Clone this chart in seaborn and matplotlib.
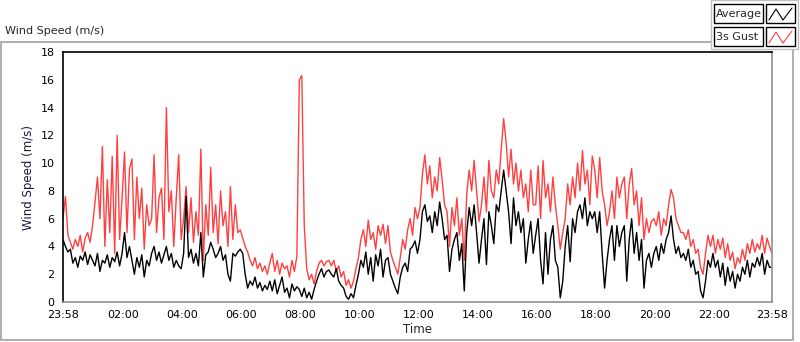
import numpy as np
import pandas as pd
import matplotlib
matplotlib.use("Agg")
import matplotlib.pyplot as plt
from matplotlib.patches import Rectangle
from matplotlib.lines import Line2D
import seaborn as sns

# readings every 5 minutes from 23:58 to 23:58 next day (one row of 12 per hour)
gust = [
    6.0, 7.6, 4.8, 4.3, 3.8, 4.5, 4.0, 4.8, 3.6, 4.6, 5.0, 4.3,
    5.5, 7.2, 9.0, 6.0, 11.2, 4.0, 8.8, 5.0, 10.5, 3.5, 12.0, 4.5,
    7.5, 10.8, 5.0, 9.6, 10.3, 4.5, 9.0, 6.0, 8.2, 3.8, 7.0, 5.5,
    6.0, 10.6, 5.0, 7.5, 8.2, 4.5, 14.0, 6.5, 8.0, 4.0, 7.5, 10.6,
    4.5, 6.0, 8.3, 5.0, 7.5, 4.3, 6.5, 4.8, 11.0, 3.0, 7.0, 4.8,
    9.7, 5.0, 7.0, 4.2, 8.0, 5.5, 6.5, 4.0, 8.3, 4.5, 7.0, 5.0,
    5.2, 4.6, 4.0, 3.6, 3.0, 2.6, 3.2, 2.4, 2.8, 2.2, 2.6, 2.0,
    2.8, 3.5, 2.2, 3.0, 2.0, 2.8, 2.4, 2.6, 1.8, 3.0, 2.2, 3.3,
    16.0, 16.3, 5.5, 2.4, 1.6, 2.0, 1.3, 2.2, 2.8, 3.0, 2.6, 2.9,
    3.0, 2.6, 3.0, 2.2, 2.6, 1.8, 2.2, 1.2, 1.6, 1.0, 1.5, 2.4,
    3.2, 4.5, 5.2, 4.0, 5.9, 4.5, 5.0, 3.8, 5.5, 4.8, 5.6, 4.2,
    5.5, 3.6, 3.0, 2.5, 2.0, 3.2, 4.5, 3.8, 5.2, 6.0, 4.8, 6.8,
    6.0, 6.8, 9.2, 10.6, 8.5, 9.8, 7.5, 9.0, 8.0, 10.4, 8.8, 7.0,
    6.5, 4.0, 6.8, 5.5, 7.5, 4.8, 6.0, 3.0, 7.8, 9.5, 8.0, 10.2,
    8.0, 5.8, 7.0, 9.0, 6.5, 10.2, 8.0, 7.5, 9.5, 8.5, 11.0, 13.2,
    11.5, 9.0, 11.0, 8.5, 10.0, 8.0, 9.5, 7.5, 8.5, 6.5, 9.5, 7.0,
    7.0, 9.8, 6.0, 10.2, 7.5, 8.5, 6.5, 9.0, 7.0, 5.5, 3.8, 5.0,
    6.0, 8.5, 7.0, 9.0, 7.5, 10.0, 8.0, 10.9, 8.5, 9.5, 7.0, 10.5,
    9.5, 7.5, 10.4, 8.0, 7.0, 5.5, 6.5, 8.0, 6.0, 9.0, 7.5, 8.5,
    9.0, 6.0, 8.5, 9.6, 7.0, 8.0, 5.5, 7.5, 4.5, 6.0, 5.0, 5.8,
    6.0, 5.5, 6.5, 4.8, 6.0, 5.5, 7.0, 8.1, 7.5, 6.0, 5.5, 5.0,
    5.0, 4.5, 5.2, 4.0, 4.5, 3.5, 3.8, 2.5, 2.0, 3.5, 4.8, 4.0,
    4.8, 3.5, 4.5, 3.8, 4.6, 3.2, 4.2, 3.0, 3.6, 2.4, 3.2, 2.8,
    3.8, 3.0, 4.2, 3.5, 4.5, 3.6, 4.2, 3.8, 4.8, 3.5, 4.6, 4.0,
    3.5,
]
average = [
    4.5, 4.0, 3.6, 3.8, 2.8, 3.2, 2.5, 3.3, 3.0, 3.6, 2.7, 3.4,
    3.0, 2.6, 3.5, 2.2, 3.0, 2.8, 3.4, 2.5, 3.2, 2.9, 3.6, 2.6,
    3.5, 5.0, 3.2, 4.0, 3.0, 2.0, 3.2, 2.5, 3.4, 1.8, 3.0, 2.6,
    3.5, 4.0, 3.0, 3.6, 2.8, 3.4, 4.0, 3.0, 3.5, 2.5, 3.0, 2.6,
    2.4, 3.5, 7.6, 3.2, 3.8, 2.8, 3.5, 2.6, 5.0, 1.8, 3.4, 3.6,
    4.3, 3.8, 3.2, 3.5, 4.0, 3.0, 3.4, 2.0, 1.5, 3.5, 3.3, 3.6,
    3.8, 3.5, 2.0, 1.0, 1.5, 1.2, 1.8, 1.0, 1.4, 0.8, 1.2, 0.9,
    1.5, 0.8, 1.6, 0.6, 1.2, 1.8, 0.7, 1.0, 0.3, 1.3, 0.8, 1.1,
    0.9, 0.4, 1.0, 0.3, 0.7, 0.2, 0.9, 1.5, 2.0, 2.4, 1.8, 2.2,
    2.3, 2.0, 1.8, 2.4, 1.5, 1.2, 1.0, 0.4, 0.2, 0.6, 0.3, 1.2,
    2.0, 3.0, 2.5, 3.6, 2.0, 3.2, 1.5, 3.4, 2.6, 3.8, 1.8, 3.0,
    3.2, 2.0, 1.5, 1.0, 0.6, 1.8, 2.5, 2.8, 2.2, 3.8, 4.0, 4.4,
    3.5, 4.5, 6.5, 7.0, 5.8, 6.2, 5.0, 6.5, 5.5, 7.2, 6.0, 4.5,
    4.8, 2.2, 3.8, 4.5, 5.0, 3.0, 4.2, 0.8, 5.0, 6.8, 5.5, 7.0,
    5.0, 2.8, 4.5, 6.0, 2.7, 6.5, 5.5, 4.2, 7.0, 6.5, 8.0, 9.5,
    8.0, 6.5, 4.2, 7.5, 5.5, 6.5, 5.0, 6.0, 2.8, 4.5, 5.8, 3.5,
    4.8, 6.0, 3.0, 1.3, 5.0, 2.0, 4.5, 5.5, 3.0, 2.5, 0.3, 1.5,
    4.0, 5.5, 2.9, 6.0, 5.0, 6.5, 7.0, 6.0, 7.5, 5.5, 6.5, 6.0,
    6.5, 5.0, 6.5, 3.5, 1.0, 3.0, 4.5, 5.5, 3.0, 5.5, 4.0, 5.0,
    5.5, 1.5, 4.5, 6.0, 3.5, 5.0, 3.0, 4.5, 1.0, 3.0, 3.5, 2.5,
    3.5, 4.0, 3.0, 4.2, 3.5, 4.5, 5.0, 6.2, 4.5, 3.5, 4.0, 3.2,
    3.5, 3.0, 3.8, 2.5, 3.0, 2.0, 2.2, 0.8, 0.3, 1.5, 3.0, 2.5,
    3.5, 2.5, 3.0, 1.8, 2.8, 1.2, 2.5, 1.5, 2.2, 1.0, 2.0, 1.5,
    2.5, 2.0, 3.0, 1.8, 2.8, 2.5, 3.2, 2.6, 3.5, 2.0, 3.0, 2.5,
    2.5,
]
tick_minutes = [0, 122, 242, 362, 482, 602, 722, 842, 962, 1082, 1202, 1322, 1440]
tick_labels = ["23:58", "02:00", "04:00", "06:00", "08:00", "10:00", "12:00",
               "14:00", "16:00", "18:00", "20:00", "22:00", "23:58"]
y_ticks = list(range(0, 19, 2))

df = pd.DataFrame({"minute": np.arange(len(gust)) * 5, "gust": gust, "average": average})

sns.set_style("white")
plt.rcParams["font.family"] = ["DejaVu Sans"]

W, H = 800, 342
fig = plt.figure(figsize=(W / 100, H / 100), dpi=100)

def fx(x):
    return x / W

def fy(y):
    return 1 - y / H

ax = fig.add_axes([fx(63), fy(302), fx(772 - 63), (302 - 52) / H])

sns.lineplot(data=df, x="minute", y="gust", color="#ff4040", lw=1.0, ax=ax)
sns.lineplot(data=df, x="minute", y="average", color="black", lw=1.0, ax=ax)

ax.set_xlim(0, 1440)
ax.set_ylim(0, 18)
ax.set_yticks(y_ticks)
ax.set_yticklabels([str(v) for v in y_ticks], fontsize=8)
ax.set_xticks(tick_minutes)
ax.set_xticklabels(tick_labels, fontsize=8)
ax.set_xticks(np.arange(15, 1440, 15) - 2, minor=True)
ax.tick_params(axis="both", which="major", direction="out", length=4, width=1,
               colors="black", pad=2)
ax.tick_params(axis="x", which="minor", direction="out", length=3, width=1, colors="black")
ax.set_xlabel("Time", fontsize=8.5, labelpad=2)
ax.set_ylabel("Wind Speed (m/s)", fontsize=8.5, color="#1a1a3a", labelpad=4)

for side in ["left", "top"]:
    ax.spines[side].set_color("black")
    ax.spines[side].set_linewidth(1.2)
for side in ["right", "bottom"]:
    ax.spines[side].set_color("#909090")
    ax.spines[side].set_linewidth(1.2)

# outer frame of the graph panel
fig.add_artist(Rectangle((fx(1), fy(340)), fx(793 - 1), (340 - 42) / H,
                         transform=fig.transFigure, fill=False,
                         edgecolor="#a0a0a0", lw=1.2))
fig.text(fx(5), fy(31), "Wind Speed (m/s)", fontsize=8, va="center", ha="left")

# legend panel on the top right
fig.add_artist(Rectangle((fx(711), fy(49)), fx(798 - 711), 49 / H,
                         transform=fig.transFigure, facecolor="white",
                         edgecolor="#c0c0c0", lw=1.0))
for row, (name, col) in enumerate([("Average", "black"), ("3s Gust", "#ff4040")]):
    top = 4 + row * 23
    fig.add_artist(Rectangle((fx(714), fy(top + 19)), fx(763 - 714), 19 / H,
                             transform=fig.transFigure, facecolor="white",
                             edgecolor="black", lw=1.0))
    fig.text(fx(716), fy(top + 10), name, fontsize=8, va="center", ha="left")
    fig.add_artist(Rectangle((fx(766), fy(top + 19)), fx(795 - 766), 19 / H,
                             transform=fig.transFigure, facecolor="white",
                             edgecolor="black", lw=1.0))
    fig.add_artist(Line2D([fx(769), fx(776), fx(783), fx(792)],
                          [fy(top + 16), fy(top + 5), fy(top + 16), fy(top + 4)],
                          transform=fig.transFigure, color=col, lw=0.8))

fig.savefig("out.png", dpi=100)
